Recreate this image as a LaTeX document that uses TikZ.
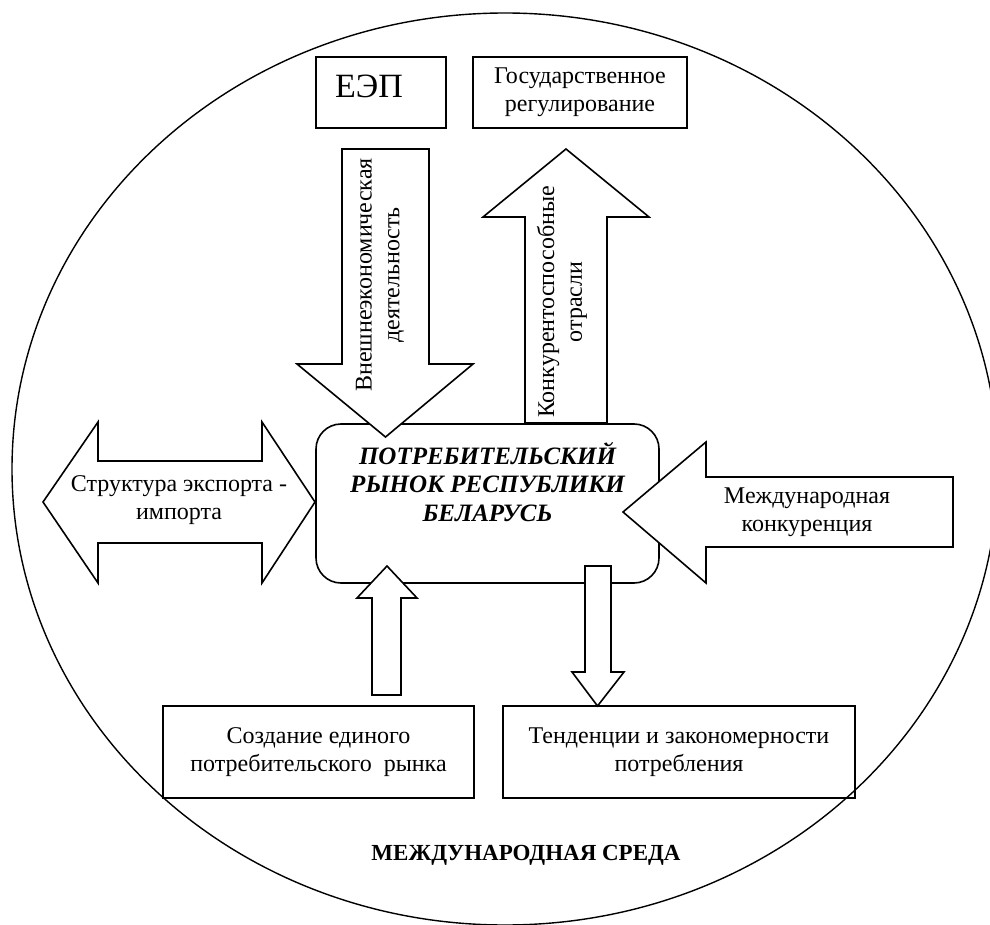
\documentclass[tikz,border=0pt]{standalone}
\usepackage{fontspec}
\setmainfont{Liberation Serif}
\usetikzlibrary{positioning}

\tikzset{
  box/.style={draw, line width=0.8pt, inner sep=0pt, align=center,
    font=\fontsize{12}{13.8}\selectfont},
  blockarrow/.style={draw, fill=white, line width=0.8pt, line join=miter},
  txt/.style={align=center, inner sep=0pt, font=\fontsize{12}{13.8}\selectfont},
}

\begin{document}
\begin{tikzpicture}[x=0.5pt, y=-0.5pt]
  \clip (0,0) rectangle (990,925);
  % international environment
  \draw[line width=0.7pt] (505,469) ellipse [x radius=246.5pt, y radius=228pt];
  \node[txt, font=\bfseries\fontsize{11.5}{13}\selectfont] (env) at (526,855)
       {МЕЖДУНАРОДНАЯ СРЕДА};

  % boxes
  \node[box, minimum width=65pt, minimum height=35.5pt] (eep) at (381,92.5) {};
  \node[txt, font=\fontsize{17}{20}\selectfont] (eeptext) at (369,86.5) {ЕЭП};
  \node[box, minimum width=107pt, minimum height=35.5pt] (gov) at (580,92.5)
       {Государственное\\регулирование};
  \node[box, rounded corners=12.5pt, minimum width=171.5pt, minimum height=79.5pt]
       (market) at (487.5,503.5) {};
  \node[txt, font=\bfseries\itshape\fontsize{12.5}{14.25}\selectfont] (title)
       at (487.5,482) {ПОТРЕБИТЕЛЬСКИЙ\\РЫНОК РЕСПУБЛИКИ\\БЕЛАРУСЬ};
  \node[box, minimum width=155.5pt, minimum height=46pt] (single) at (318.5,752)
       {Создание единого\\потребительского\ \ рынка};
  \node[box, minimum width=176pt, minimum height=46pt] (trends) at (679,752)
       {Тенденции и закономерности\\потребления};

  % block arrows
  \draw[blockarrow] (342,149) -- (429,149) -- (429,364) -- (473,364) -- (385.5,437)
        -- (297,364) -- (342,364) -- cycle;
  \draw[blockarrow] (525,423) -- (525,217) -- (483,217) -- (566,149) -- (649,217)
        -- (607,217) -- (607,423) -- cycle;
  \draw[blockarrow] (43,502) -- (98,422) -- (98,461) -- (262,461) -- (262,422)
        -- (315,502) -- (262,583) -- (262,543) -- (98,543) -- (98,583) -- cycle;
  \draw[blockarrow] (623,512) -- (706,442) -- (706,477) -- (953,477) -- (953,547)
        -- (706,547) -- (706,583) -- cycle;
  \draw[blockarrow] (372,695) -- (372,598) -- (357,598) -- (387,566) -- (417,598)
        -- (401,598) -- (401,695) -- cycle;
  \draw[blockarrow] (585,566) -- (611,566) -- (611,672) -- (624,672) -- (597.5,706)
        -- (572,672) -- (585,672) -- cycle;

  % arrow labels
  \node[txt, rotate=90] (foreign) at (380,275) {Внешнеэкономическая\\деятельность};
  \node[txt, rotate=90] (compet) at (562,302) {Конкурентоспособные\\отрасли};
  \node[txt] (trade) at (179,500) {Структура экспорта -\\импорта};
  \node[txt] (intl) at (807,512) {Международная\\конкуренция};
\end{tikzpicture}
\end{document}
